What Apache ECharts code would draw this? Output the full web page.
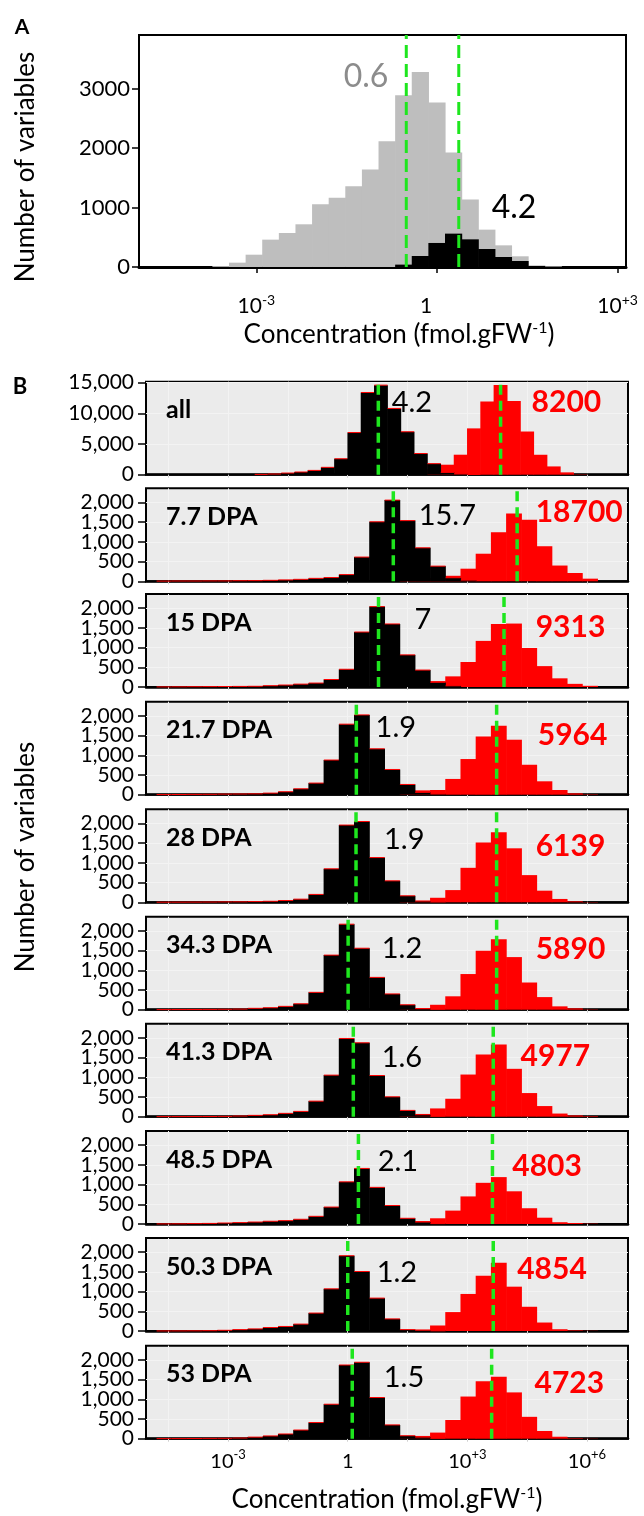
<!DOCTYPE html>
<html><head><meta charset="utf-8">
<script src="https://cdn.jsdelivr.net/npm/echarts@6/dist/echarts.min.js"></script>
<style>html,body{margin:0;padding:0;background:#fff}#c{width:644px;height:1516px}</style>
</head><body><div id="c"></div>
<script>
// ================= DATA =================
// Panel A : histogram of log10(concentration); bins centred on k*aBinWidth
const aBinWidth = 0.276;
const aGreyFirstBin = -13;
const aGreyCounts = [15,73,207,460,572,718,1054,1166,1357,1637,2114,2888,3280,2764,1923,1133,628,364,180,28,11];
const aBlackFirstBin = -2;
const aBlackCounts = [40,185,404,561,465,303,168,101,17];
const aMedianPos = [-0.51, 0.362];          // log10 position of green dashed lines
const aMedianLabels = ['0.6', '4.2'];
const aXTicks = [-3, 0, 3];
const aYTicks = [0, 1000, 2000, 3000];

// Panel B
const panelNames = ['all','7.7 DPA','15 DPA','21.7 DPA','28 DPA','34.3 DPA','41.3 DPA','48.5 DPA','50.3 DPA','53 DPA'];
const blackMedianLabels = ['4.2','15.7','7','1.9','1.9','1.2','1.6','2.1','1.2','1.5'];
const redMedianLabels = ['8200','18700','9313','5964','6139','5890','4977','4803','4854','4723'];
const blackMedianPos = [0.767,1.143,0.772,0.216,0.208,0.01,0.14,0.268,0.0,0.113];
const redMedianPos   = [3.834,4.249,3.92,3.735,3.734,3.735,3.65,3.63,3.65,3.61];

// "all" panel bins: left edge of bin k = allBinOrigin + k*allBinWidth
const allBinOrigin = 0, allBinWidth = 1/3;
const allBlackFirstBin = -7, allRedFirstBin = 6;
const blackAll = [50,110,270,440,700,1200,2600,6870,13400,14600,10800,7000,3450,1800,380,130,30];
const redAll   = [900,1630,3260,7550,11950,14610,12020,7040,3250,1350,380,50];

// DPA panels bins: left edge of bin j = dpaBinOrigin + j*dpaBinWidth
const dpaBinOrigin = 0.165, dpaBinWidth = 0.3815;
const dpaBlackFirstBin = -13, dpaRedFirstBin = 3;
const black7_7  = [5,8,8,10,10,15,17,25,35,50,75,95,170,615,1510,2060,1540,850,385,90,30];
const red7_7    = [10,30,80,140,320,700,1245,1720,1560,890,400,210,67];
const black15   = [3,5,8,10,12,15,18,33,50,73,100,190,450,1395,2040,1600,815,430,120,30];
const red15     = [10,40,150,270,635,1170,1600,1610,990,530,220,80,30];
const black21_7 = [3,5,8,10,15,18,22,40,75,150,295,880,1790,2025,1165,640,260,60,20];
const red21_7   = [20,110,120,400,905,1480,1750,1395,760,340,120,35,10];
const black28   = [3,4,5,7,10,12,18,26,45,80,200,850,1960,2050,1135,545,165,30,10];
const red28     = [10,40,115,310,875,1515,1775,1370,690,295,85,25,8];
const black34_3 = [3,4,5,7,10,15,35,50,85,150,440,1385,2170,1560,820,400,125,30,10];
const red34_3   = [10,40,125,340,905,1495,1790,1335,690,320,85,35,8];
const black41_3 = [2,3,4,5,8,17,34,50,85,135,395,1055,1985,1875,1045,505,160,50,10];
const red41_3   = [20,70,210,455,1070,1580,1830,1215,600,270,80,33,15];
const black48_5 = [3,5,10,15,25,35,50,70,85,120,195,430,1070,1410,930,470,145,50,10];
const red48_5   = [20,75,145,340,700,1045,1190,830,400,160,45,25,8];
const black50_3 = [2,3,5,8,18,35,53,88,115,175,455,1070,1910,1510,835,307,35,20,5];
const red50_3   = [10,35,140,480,940,1400,1730,1125,615,215,45,15,5];
const black53   = [2,3,5,8,10,17,40,70,120,220,410,875,1870,1940,1045,350,75,40,10];
const red53     = [10,70,155,475,1070,1455,1575,1175,555,195,50,15,5];

const xTicksB = [-4.5,-3,-1.5,0,1.5,3,4.5,6];
const xLabelsB = [-3,0,3,6];
const yTicksAll = [0,5000,10000,15000];
const yTicksDPAMajor = [0,1000,2000];
const yTicksDPAMinor = [500,1500];

// ================= LAYOUT =================
const FONT = 'Lato, "Open Sans", "DejaVu Sans", sans-serif';
const GREEN = '#1ee61e';
const panelTops = [381.7, 488.3, 594, 701.7, 809.3, 916.7, 1023.7, 1131, 1238, 1345.7];
const panelH = 93;
const blackLabelXY = [[391.7,403],[418.7,516],[414.6,620],[375.6,727.5],[384,839.5],[381.8,949],[381.7,1058],[377.7,1161.7],[376.7,1273],[383.8,1378]];
const redLabelXY = [[531.6,402],[535.7,512.5],[535.7,627.5],[537.8,735],[535.7,846],[535.7,949],[520.5,1056],[512.3,1166],[517.2,1269],[534.5,1383]];

const blackLists = [blackAll, black7_7, black15, black21_7, black28, black34_3, black41_3, black48_5, black50_3, black53];
const redLists = [redAll, red7_7, red15, red21_7, red28, red34_3, red41_3, red48_5, red50_3, red53];

function binsFromEdges(origin, width, firstBin, counts) {
  return counts.map((c, i) => { const x0 = origin + (firstBin + i) * width; return [x0, x0 + width, c]; });
}
function binsCentred(width, firstBin, counts) {
  return counts.map((c, i) => { const x0 = (firstBin + i - 0.5) * width; return [x0, x0 + width, c]; });
}
function barRenderer(fill, topStroke) {
  return function (params, api) {
    const x0 = api.value(0), x1 = api.value(1), v = api.value(2);
    const tl = api.coord([x0, v]), br = api.coord([x1, 0]);
    const rect = { type: 'rect', shape: { x: tl[0] - 0.3, y: tl[1], width: br[0] - tl[0] + 0.6, height: br[1] - tl[1] }, style: { fill: fill } };
    if (!topStroke) return rect;
    return { type: 'group', children: [rect, { type: 'line', shape: { x1: tl[0], y1: tl[1], x2: br[0], y2: tl[1] }, style: { stroke: topStroke, lineWidth: 1 } }] };
  };
}
function comma(v) { return String(v).replace(/\B(?=(\d{3})+(?!\d))/g, ','); }
function expLabel(v) {
  if (Math.abs(v) < 1e-9) return '{n|1}';
  return '{n|10}{s|' + (v > 0 ? '+' : '-') + Math.abs(v) + '}';
}
function yAxisB(gi, ymax, ticks, withSplit) {
  return {
    gridIndex: gi, type: 'value', min: 0, max: ymax, position: 'left', offset: 0,
    axisLine: { show: false, onZero: false },
    axisTick: { show: true, interval: 0, customValues: ticks, length: 8, lineStyle: { color: '#000', width: 1.5 } },
    axisLabel: { customValues: ticks, interval: 0, margin: 12, fontSize: 21, fontFamily: FONT, color: '#000', formatter: comma, hideOverlap: false, showMinLabel: true, showMaxLabel: true },
    splitLine: { show: withSplit, interval: 0, lineStyle: { color: '#f3f3f3', width: 1 } }
  };
}

const grids = [], xAxes = [], yAxes = [], series = [];

// ---- Panel A ----
grids.push({ left: 139, top: 35, width: 487, height: 232, show: true, borderColor: '#000', borderWidth: 2, backgroundColor: '#fff' });
xAxes.push({
  gridIndex: 0, type: 'value', min: -4.95, max: 3.14,
  axisLine: { show: true, onZero: false, lineStyle: { color: '#000', width: 3 } },
  axisTick: { show: true, customValues: aXTicks, length: 6, lineStyle: { color: '#000', width: 1.5 } },
  axisLabel: { customValues: aXTicks, margin: 26, interval: 0, hideOverlap: false, formatter: v => Math.abs(v) < 1e-9 ? '{one|1}' : expLabel(v),
    rich: { n: { fontSize: 21, fontFamily: FONT, color: '#000', lineHeight: 26 }, s: { fontSize: 14, fontFamily: FONT, color: '#000', lineHeight: 14, verticalAlign: 'top' },
            one: { fontSize: 21, fontFamily: FONT, color: '#000', lineHeight: 26, padding: [0, 22, 0, 0] } } },
  splitLine: { show: false }
});
yAxes.push({
  gridIndex: 0, type: 'value', min: 0, max: 3900,
  axisLine: { show: false, onZero: false },
  axisTick: { show: true, interval: 0, customValues: aYTicks, length: 7, lineStyle: { color: '#000', width: 1.5 } },
  axisLabel: { customValues: aYTicks, interval: 0, margin: 9, fontSize: 22, fontFamily: FONT, color: '#000', formatter: v => String(v), hideOverlap: false, showMinLabel: true, showMaxLabel: true },
  splitLine: { show: false }
});
series.push({ type: 'custom', xAxisIndex: 0, yAxisIndex: 0, renderItem: barRenderer('#bebebe'), encode: { x: [0, 1], y: 2 }, data: binsCentred(aBinWidth, aGreyFirstBin, aGreyCounts), z: 2, silent: true });
series.push({ type: 'custom', xAxisIndex: 0, yAxisIndex: 0, renderItem: barRenderer('#000'), encode: { x: [0, 1], y: 2 }, data: binsCentred(aBinWidth, aBlackFirstBin, aBlackCounts), z: 3, silent: true });
aMedianPos.forEach(m => series.push({ type: 'line', xAxisIndex: 0, yAxisIndex: 0, data: [[m, 0], [m, 3900]], symbol: 'none', silent: true, z: 5,
  lineStyle: { color: GREEN, width: 3, type: [13, 6] } }));

// ---- Panel B ----
panelNames.forEach((name, p) => {
  const gi = p + 1;
  const isAll = p === 0, isLast = p === panelNames.length - 1;
  const ymax = isAll ? 15160 : 2360;
  grids.push({ left: 146, top: panelTops[p], width: 482, height: panelH, show: true, borderColor: '#000', borderWidth: 2, backgroundColor: '#ebebeb' });
  xAxes.push({
    gridIndex: gi, type: 'value', min: -5.06, max: 7.03,
    axisLine: { show: true, onZero: false, lineStyle: { color: '#000', width: 2.5 } },
    axisTick: { show: true, interval: 0, customValues: xTicksB, length: 3, lineStyle: { color: '#cfcfcf', width: 1 } },
    axisLabel: isLast ? { customValues: xLabelsB, interval: 0, margin: 10, hideOverlap: false, formatter: expLabel,
      rich: { n: { fontSize: 20, fontFamily: FONT, color: '#000', lineHeight: 26 }, s: { fontSize: 13, fontFamily: FONT, color: '#000', lineHeight: 13, verticalAlign: 'top' } } } : { show: false },
    splitLine: { show: true, interval: 0, lineStyle: { color: '#f3f3f3', width: 1 } }
  });
  const yi = yAxes.length;
  if (isAll) {
    yAxes.push(yAxisB(gi, ymax, yTicksAll, true));
  } else {
    yAxes.push(yAxisB(gi, ymax, yTicksDPAMajor, true));
    yAxes.push(yAxisB(gi, ymax, yTicksDPAMinor, true));
  }
  const redData = isAll ? binsFromEdges(allBinOrigin, allBinWidth, allRedFirstBin, redLists[p]) : binsFromEdges(dpaBinOrigin, dpaBinWidth, dpaRedFirstBin, redLists[p]);
  const blackData = isAll ? binsFromEdges(allBinOrigin, allBinWidth, allBlackFirstBin, blackLists[p]) : binsFromEdges(dpaBinOrigin, dpaBinWidth, dpaBlackFirstBin, blackLists[p]);
  series.push({ type: 'custom', xAxisIndex: gi, yAxisIndex: yi, renderItem: barRenderer('#ff0000'), encode: { x: [0, 1], y: 2 }, data: redData, z: 2, silent: true });
  series.push({ type: 'custom', xAxisIndex: gi, yAxisIndex: yi, renderItem: barRenderer('#000', '#ff0000'), encode: { x: [0, 1], y: 2 }, data: blackData, z: 3, silent: true });
  [blackMedianPos[p], redMedianPos[p]].forEach(m => series.push({ type: 'line', xAxisIndex: gi, yAxisIndex: yi, data: [[m, 0], [m, ymax]], symbol: 'none', silent: true, z: 5,
    lineStyle: { color: GREEN, width: 3.5, type: [10, 6] } }));
});

// ---- Texts ----
const graphics = [];
function txt(x, y, text, opts) {
  graphics.push(Object.assign({ type: 'text', x: x, y: y, silent: true, z: 100,
    style: Object.assign({ text: text, fill: '#000', fontFamily: FONT, fontSize: 20, align: 'center', verticalAlign: 'middle' }, opts.style || {}) }, opts.el || {}));
}
txt(22, 27, 'A', { style: { fontWeight: 'bold', fontSize: 21 } });
txt(20, 387, 'B', { style: { fontWeight: 'bold', fontSize: 22 } });
txt(26, 167, 'Number of variables', { style: { fontSize: 26 }, el: { rotation: Math.PI / 2 } });
txt(26, 857, 'Number of variables', { style: { fontSize: 26 }, el: { rotation: Math.PI / 2 } });
const xTitleRich = { a: { fontSize: 26, fontFamily: FONT, color: '#000', lineHeight: 30 }, s: { fontSize: 16, fontFamily: FONT, color: '#000', lineHeight: 16, verticalAlign: 'top' } };
txt(399, 335, '{a|Concentration (fmol.gFW}{s|-1}{a|)}', { style: { rich: xTitleRich } });
txt(387, 1500, '{a|Concentration (fmol.gFW}{s|-1}{a|)}', { style: { rich: xTitleRich } });
txt(366, 77, aMedianLabels[0], { style: { fontSize: 32, fill: '#8c8c8c' } });
txt(514, 208, aMedianLabels[1], { style: { fontSize: 32, fill: '#000' } });
panelNames.forEach((name, p) => {
  txt(166, panelTops[p] + 28.5, name, { style: { fontSize: 25, fontWeight: 'bold', align: 'left' } });
  txt(blackLabelXY[p][0], blackLabelXY[p][1], blackMedianLabels[p], { style: { fontSize: 29, align: 'left' } });
  txt(redLabelXY[p][0], redLabelXY[p][1], redMedianLabels[p], { style: { fontSize: 30, fontWeight: 'bold', align: 'left', fill: '#ff0000' } });
});

const chart = echarts.init(document.getElementById('c'), null, { renderer: 'canvas', width: 644, height: 1516 });
chart.setOption({
  animation: false,
  backgroundColor: '#fff',
  textStyle: { fontFamily: FONT },
  grid: grids, xAxis: xAxes, yAxis: yAxes, series: series, graphic: graphics
});
</script></body></html>
